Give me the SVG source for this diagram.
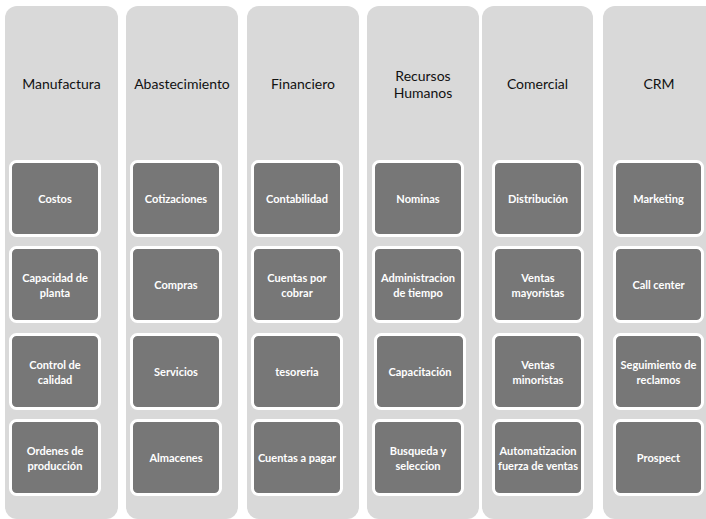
<svg xmlns="http://www.w3.org/2000/svg" width="706" height="519" viewBox="0 0 706 519">
  <style>
    .col { fill: #d9d9d9; }
    .hdr { font-family: Lato, "Liberation Sans", sans-serif; font-size: 14px; fill: #111111; text-anchor: middle; dominant-baseline: central; }
    .box { fill: #777777; stroke: #ffffff; stroke-width: 3; }
    .lbl { font-family: Lato, "Liberation Sans", sans-serif; font-size: 11px; font-weight: bold; fill: #ffffff; text-anchor: middle; dominant-baseline: central; }
  </style>
  <rect width="706" height="519" fill="#ffffff"/>

  <g id="manufactura">
    <rect class="col" x="5" y="6" width="113" height="513" rx="12"/>
    <text class="hdr" x="61.5" y="83">Manufactura</text>
    <g id="costos"><rect class="box" x="10.5" y="161.5" width="89" height="74" rx="6"/><text class="lbl" x="55" y="198.5">Costos</text></g>
    <g id="capacidad"><rect class="box" x="10.5" y="247.5" width="89" height="74" rx="6"/><text class="lbl" x="55" y="277">Capacidad de</text><text class="lbl" x="55" y="292">planta</text></g>
    <g id="control"><rect class="box" x="10.5" y="334.5" width="89" height="74" rx="6"/><text class="lbl" x="55" y="364">Control de</text><text class="lbl" x="55" y="379">calidad</text></g>
    <g id="ordenes"><rect class="box" x="10.5" y="420.5" width="89" height="74" rx="6"/><text class="lbl" x="55" y="450">Ordenes de</text><text class="lbl" x="55" y="465">producción</text></g>
  </g>

  <g id="abastecimiento">
    <rect class="col" x="126" y="6" width="112" height="513" rx="12"/>
    <text class="hdr" x="182" y="83">Abastecimiento</text>
    <g id="cotizaciones"><rect class="box" x="131.5" y="161.5" width="89" height="74" rx="6"/><text class="lbl" x="176" y="198.5">Cotizaciones</text></g>
    <g id="compras"><rect class="box" x="131.5" y="247.5" width="89" height="74" rx="6"/><text class="lbl" x="176" y="284.5">Compras</text></g>
    <g id="servicios"><rect class="box" x="131.5" y="334.5" width="89" height="74" rx="6"/><text class="lbl" x="176" y="371.5">Servicios</text></g>
    <g id="almacenes"><rect class="box" x="131.5" y="420.5" width="89" height="74" rx="6"/><text class="lbl" x="176" y="457.5">Almacenes</text></g>
  </g>

  <g id="financiero">
    <rect class="col" x="247" y="6" width="112" height="513" rx="12"/>
    <text class="hdr" x="303" y="83">Financiero</text>
    <g id="contabilidad"><rect class="box" x="252.5" y="161.5" width="89" height="74" rx="6"/><text class="lbl" x="297" y="198.5">Contabilidad</text></g>
    <g id="cobrar"><rect class="box" x="252.5" y="247.5" width="89" height="74" rx="6"/><text class="lbl" x="297" y="277">Cuentas por</text><text class="lbl" x="297" y="292">cobrar</text></g>
    <g id="tesoreria"><rect class="box" x="252.5" y="334.5" width="89" height="74" rx="6"/><text class="lbl" x="297" y="371.5">tesoreria</text></g>
    <g id="pagar"><rect class="box" x="252.5" y="420.5" width="89" height="74" rx="6"/><text class="lbl" x="297" y="457.5">Cuentas a pagar</text></g>
  </g>

  <g id="recursos-humanos">
    <rect class="col" x="367" y="6" width="112" height="513" rx="12"/>
    <text class="hdr" x="423" y="75">Recursos</text>
    <text class="hdr" x="423" y="92">Humanos</text>
    <g id="nominas"><rect class="box" x="373.5" y="161.5" width="89" height="74" rx="6"/><text class="lbl" x="418" y="198.5">Nominas</text></g>
    <g id="tiempo"><rect class="box" x="373.5" y="247.5" width="89" height="74" rx="6"/><text class="lbl" x="418" y="277">Administracion</text><text class="lbl" x="418" y="292">de tiempo</text></g>
    <g id="capacitacion"><rect class="box" x="375.5" y="334.5" width="89" height="74" rx="6"/><text class="lbl" x="420" y="371.5">Capacitación</text></g>
    <g id="busqueda"><rect class="box" x="373.5" y="420.5" width="89" height="74" rx="6"/><text class="lbl" x="418" y="450">Busqueda y</text><text class="lbl" x="418" y="465">seleccion</text></g>
  </g>

  <g id="comercial">
    <rect class="col" x="482" y="6" width="111" height="513" rx="12"/>
    <text class="hdr" x="537.5" y="83">Comercial</text>
    <g id="distribucion"><rect class="box" x="493.5" y="161.5" width="89" height="74" rx="6"/><text class="lbl" x="538" y="198.5">Distribución</text></g>
    <g id="mayoristas"><rect class="box" x="493.5" y="247.5" width="89" height="74" rx="6"/><text class="lbl" x="538" y="277">Ventas</text><text class="lbl" x="538" y="292">mayoristas</text></g>
    <g id="minoristas"><rect class="box" x="493.5" y="334.5" width="89" height="74" rx="6"/><text class="lbl" x="538" y="364">Ventas</text><text class="lbl" x="538" y="379">minoristas</text></g>
    <g id="automatizacion"><rect class="box" x="493.5" y="420.5" width="89" height="74" rx="6"/><text class="lbl" x="538" y="450">Automatizacion</text><text class="lbl" x="538" y="465">fuerza de ventas</text></g>
  </g>

  <g id="crm">
    <rect class="col" x="603" y="6" width="114" height="513" rx="12"/>
    <text class="hdr" x="659" y="83">CRM</text>
    <g id="marketing"><rect class="box" x="614.5" y="161.5" width="88" height="74" rx="6"/><text class="lbl" x="658.5" y="198.5">Marketing</text></g>
    <g id="call-center"><rect class="box" x="614.5" y="247.5" width="88" height="74" rx="6"/><text class="lbl" x="658.5" y="284.5">Call center</text></g>
    <g id="reclamos"><rect class="box" x="614.5" y="334.5" width="88" height="74" rx="6"/><text class="lbl" x="658.5" y="364">Seguimiento de</text><text class="lbl" x="658.5" y="379">reclamos</text></g>
    <g id="prospect"><rect class="box" x="614.5" y="420.5" width="88" height="74" rx="6"/><text class="lbl" x="658.5" y="457.5">Prospect</text></g>
  </g>

  <g id="connectors"/>
</svg>
